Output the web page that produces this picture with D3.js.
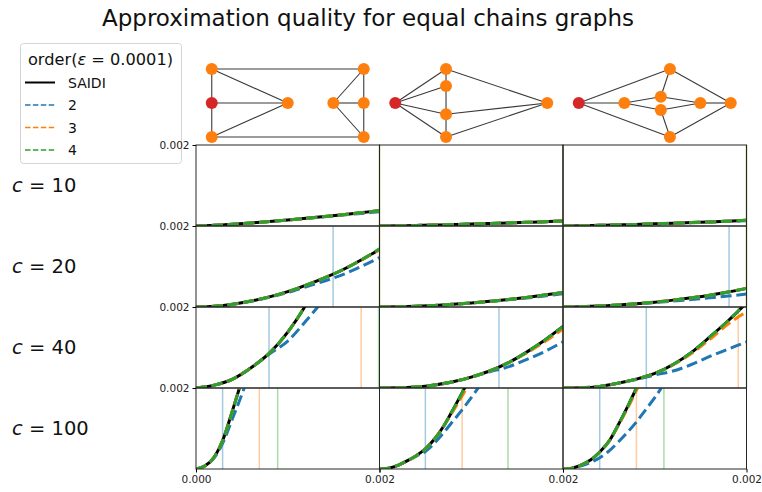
<!DOCTYPE html>
<html>
<head>
<meta charset="utf-8">
<script src="https://cdn.jsdelivr.net/npm/d3@7"></script>
<style>
    body { margin: 0; background: #fff; }
    svg { font-family: "DejaVu Sans", sans-serif; }
</style>
</head>
<body>
<div id="chart"></div>
<script>
// all curve values are in units of 1e-3 (axis labels are formatted back)
const cValues = [10, 20, 40, 100];
const seriesNames = ['SAIDI', '2', '3', '4'];
const seriesColors = ['#000000', '#1f77b4', '#ff7f0e', '#2ca02c'];
const xMax = 2;
const yMax = 2;

// x sample points, one grid per row (c value)
const xGrid = [
    [0, 0.2, 0.4, 0.6, 0.8, 1.0, 1.2, 1.4, 1.6, 1.8, 2.0],
    [0, 0.2, 0.4, 0.6, 0.8, 1.0, 1.2, 1.4, 1.6, 1.8, 2.0],
    [0, 0.2, 0.4, 0.6, 0.8, 1.0, 1.2, 1.4, 1.6, 1.8, 2.0],
    [0, 0.1, 0.2, 0.3, 0.4, 0.5, 0.6, 0.7, 0.8, 0.9, 1.0, 1.1, 1.2]
];

// [row][graph] -> values on xGrid[row]
const saidiY = [
    [[0, 0.016, 0.042, 0.074, 0.11, 0.148, 0.19, 0.234, 0.28, 0.33, 0.38],
     [0, 0.006, 0.014, 0.024, 0.036, 0.05, 0.064, 0.076, 0.09, 0.106, 0.124],
     [0, 0.006, 0.016, 0.028, 0.04, 0.054, 0.068, 0.084, 0.1, 0.12, 0.14]],
    [[0, 0.018, 0.068, 0.146, 0.25, 0.38, 0.54, 0.72, 0.92, 1.16, 1.42],
     [0, 0.006, 0.02, 0.04, 0.066, 0.1, 0.14, 0.184, 0.236, 0.294, 0.36],
     [0, 0.006, 0.022, 0.048, 0.08, 0.12, 0.17, 0.226, 0.29, 0.37, 0.46]],
    [[0, 0.07, 0.22, 0.5, 0.86, 1.38, 2.06, 2.9],
     [0, 0.004, 0.026, 0.076, 0.154, 0.27, 0.42, 0.62, 0.88, 1.18, 1.52],
     [0, 0.006, 0.04, 0.12, 0.22, 0.36, 0.58, 0.88, 1.26, 1.66, 2.1]],
    [[0, 0.08, 0.3, 0.76, 1.46, 2.2, 3.0],
     [0, 0.02, 0.09, 0.2, 0.33, 0.5, 0.74, 1.06, 1.46, 1.88, 2.32],
     [0, 0.02, 0.1, 0.22, 0.42, 0.68, 1.08, 1.52, 2.0, 2.5]]
];
const order2Y = [
    [[0, 0.016, 0.042, 0.074, 0.11, 0.146, 0.185, 0.226, 0.27, 0.31, 0.35],
     [0, 0.006, 0.014, 0.024, 0.036, 0.05, 0.063, 0.075, 0.088, 0.104, 0.12],
     [0, 0.006, 0.016, 0.028, 0.04, 0.053, 0.066, 0.08, 0.098, 0.115, 0.132]],
    [[0, 0.018, 0.066, 0.14, 0.24, 0.36, 0.5, 0.64, 0.8, 1.0, 1.22],
     [0, 0.006, 0.02, 0.04, 0.066, 0.098, 0.136, 0.176, 0.22, 0.274, 0.33],
     [0, 0.006, 0.022, 0.046, 0.076, 0.11, 0.146, 0.184, 0.226, 0.27, 0.32]],
    [[0, 0.07, 0.22, 0.5, 0.84, 1.16, 1.66, 2.2],
     [0, 0.004, 0.026, 0.074, 0.15, 0.262, 0.4, 0.52, 0.7, 0.9, 1.14],
     [0, 0.006, 0.04, 0.118, 0.21, 0.32, 0.42, 0.58, 0.78, 0.96, 1.14]],
    [[0, 0.08, 0.28, 0.68, 1.26, 1.84, 2.5],
     [0, 0.02, 0.09, 0.2, 0.32, 0.43, 0.64, 0.9, 1.18, 1.46, 1.76, 2.08],
     [0, 0.02, 0.08, 0.16, 0.28, 0.44, 0.66, 0.9, 1.16, 1.46, 1.76, 2.1]]
];
const order3Y = [
    [[0, 0.016, 0.042, 0.074, 0.11, 0.148, 0.19, 0.234, 0.28, 0.33, 0.38],
     [0, 0.006, 0.014, 0.024, 0.036, 0.05, 0.064, 0.076, 0.09, 0.106, 0.124],
     [0, 0.006, 0.016, 0.028, 0.04, 0.054, 0.068, 0.084, 0.1, 0.12, 0.14]],
    [[0, 0.018, 0.068, 0.146, 0.25, 0.38, 0.54, 0.72, 0.92, 1.16, 1.42],
     [0, 0.006, 0.02, 0.04, 0.066, 0.1, 0.14, 0.184, 0.236, 0.294, 0.36],
     [0, 0.006, 0.022, 0.048, 0.08, 0.12, 0.17, 0.226, 0.29, 0.37, 0.46]],
    [[0, 0.07, 0.22, 0.5, 0.86, 1.38, 2.06, 2.9],
     [0, 0.004, 0.026, 0.076, 0.154, 0.27, 0.42, 0.62, 0.86, 1.14, 1.46],
     [0, 0.006, 0.04, 0.12, 0.22, 0.36, 0.57, 0.85, 1.2, 1.58, 1.88]],
    [[0, 0.08, 0.3, 0.76, 1.46, 2.2, 3.0],
     [0, 0.02, 0.09, 0.2, 0.33, 0.5, 0.74, 1.06, 1.42, 1.8, 2.2],
     [0, 0.02, 0.1, 0.22, 0.42, 0.68, 1.06, 1.48, 1.94, 2.4]]
];
const order4Y = [
    [[0, 0.016, 0.042, 0.074, 0.11, 0.148, 0.19, 0.234, 0.28, 0.33, 0.38],
     [0, 0.006, 0.014, 0.024, 0.036, 0.05, 0.064, 0.076, 0.09, 0.106, 0.124],
     [0, 0.006, 0.016, 0.028, 0.04, 0.054, 0.068, 0.084, 0.1, 0.12, 0.14]],
    [[0, 0.018, 0.068, 0.146, 0.25, 0.38, 0.54, 0.72, 0.92, 1.16, 1.44],
     [0, 0.006, 0.02, 0.04, 0.066, 0.1, 0.14, 0.184, 0.236, 0.294, 0.36],
     [0, 0.006, 0.022, 0.048, 0.08, 0.12, 0.17, 0.226, 0.29, 0.37, 0.46]],
    [[0, 0.07, 0.22, 0.5, 0.86, 1.38, 2.06, 2.9],
     [0, 0.004, 0.026, 0.076, 0.154, 0.27, 0.42, 0.62, 0.88, 1.18, 1.52],
     [0, 0.006, 0.04, 0.12, 0.22, 0.36, 0.58, 0.88, 1.26, 1.66, 2.1]],
    [[0, 0.08, 0.3, 0.76, 1.46, 2.2, 3.0],
     [0, 0.02, 0.09, 0.2, 0.33, 0.5, 0.74, 1.06, 1.46, 1.88, 2.32],
     [0, 0.02, 0.1, 0.22, 0.42, 0.68, 1.08, 1.52, 2.0, 2.5]]
];

// x where each order reaches epsilon, [row][graph] (null = not reached in range)
const cutoff2 = [[null, null, null], [1.494, null, 1.81], [0.796, 1.302, 0.908], [0.29, 0.5, 0.4]];
const cutoff3 = [[2, 2, 2], [2, 2, 2], [1.8, 2, 1.91], [0.69, 0.9, 0.8]];
const cutoff4 = [[2, 2, 2], [2, 2, 2], [1.99, 2, 2], [0.89, 1.4, 1.1]];

// the three equal chains graphs (layout coords: x 0..1, y -1..1, 1 = root node)
const graphNodes = [
    [[0, 1, 0], [0, 0, 1], [0, -1, 0], [0.5, 0, 0], [0.8, 0, 0], [1, 1, 0], [1, 0, 0], [1, -1, 0]],
    [[0, 0, 1], [0.334, 1, 0], [0.334, 0.5, 0], [0.334, -0.33, 0], [0.334, -1, 0], [1, 0, 0]],
    [[0, 0, 1], [0.30, 0, 0], [0.54, 0.185, 0], [0.54, -0.205, 0], [0.80, 0, 0], [1, 0, 0], [0.6, 1, 0], [0.6, -1, 0]]
];
const graphEdges = [
    [[0, 5], [2, 7], [0, 1], [1, 2], [0, 3], [1, 3], [2, 3], [4, 5], [4, 6], [4, 7], [5, 6], [6, 7]],
    [[0, 1], [0, 2], [0, 3], [0, 4], [1, 2], [2, 3], [3, 4], [1, 5], [3, 5], [4, 5]],
    [[0, 6], [0, 7], [0, 1], [1, 2], [1, 3], [2, 4], [3, 4], [4, 5], [6, 2], [6, 5], [7, 3], [7, 5]]
];

class ChainsChart {

    constructor(){
        this.width = 762;
        this.height = 492;
        this.svg = d3.select('#chart').append('svg')
            .attr('width', this.width)
            .attr('height', this.height)

        // grid of panels: columns = graphs, rows = c values
        this.colX = d3.scaleLinear().domain([0, 3]).range([196, 746.5]);
        this.rowY = d3.scaleLinear().domain([0, 4]).range([145, 469]);
        this.pw = this.colX(1) - this.colX(0);
        this.ph = this.rowY(1) - this.rowY(0);
    }

    drawTitle(){
        this.svg.append('text')
            .attr('x', 368).attr('y', 26)
            .attr('text-anchor', 'middle')
            .style('font-size', '23px')
            .attr('fill', '#111')
            .text('Approximation quality for equal chains graphs')
    }

    drawLegend(){
        let lg = this.svg.append('g').attr('id', 'legend')
        lg.append('rect')
            .attr('x', 20.5).attr('y', 43.5).attr('width', 161).attr('height', 120)
            .attr('rx', 3)
            .attr('fill', 'white').attr('fill-opacity', 0.8)
            .attr('stroke', '#d5d5d5')
        let title = lg.append('text').attr('x', 100.5).attr('y', 64.5)
            .attr('text-anchor', 'middle').style('font-size', '16.2px').attr('fill', '#111')
        title.append('tspan').text('order(')
        title.append('tspan').style('font-style', 'italic').text('ε')
        title.append('tspan').text(' = 0.0001)')

        let rowPos = d3.scaleLinear().domain([0, 3]).range([82.5, 150])
        seriesNames.forEach((name, i) => {
            let y = rowPos(i)
            lg.append('line')
                .attr('x1', 25).attr('x2', 55).attr('y1', y).attr('y2', y)
                .attr('stroke', seriesColors[i])
                .attr('stroke-width', i == 0 ? 2 : 1.5)
                .attr('stroke-dasharray', i == 0 ? null : '5.5,2.4')
            lg.append('text')
                .attr('x', 68).attr('y', y + 5)
                .style('font-size', '14px').attr('fill', '#111')
                .text(name)
        })
    }

    drawGraphs(){
        let gy = d3.scaleLinear().domain([-1, 1]).range([137, 69])
        graphNodes.forEach((nodes, gi) => {
            let cx = (this.colX(gi) + this.colX(gi + 1)) / 2
            let gx = d3.scaleLinear().domain([0, 1]).range([cx - 76, cx + 76])
            let g = this.svg.append('g').attr('class', 'graph')
            g.selectAll('line').data(graphEdges[gi]).enter().append('line')
                .attr('x1', d => gx(nodes[d[0]][0])).attr('y1', d => gy(nodes[d[0]][1]))
                .attr('x2', d => gx(nodes[d[1]][0])).attr('y2', d => gy(nodes[d[1]][1]))
                .attr('stroke', '#3a3a3a').attr('stroke-width', 1.1)
            g.selectAll('circle').data(nodes).enter().append('circle')
                .attr('cx', d => gx(d[0])).attr('cy', d => gy(d[1]))
                .attr('r', 6)
                .attr('fill', d => d[2] ? '#d62728' : '#ff7f0e')
        })
    }

    drawPanel(r, c){
        let x0 = this.colX(c), y0 = this.rowY(r)
        let g = this.svg.append('g').attr('transform', 'translate(' + x0 + ',' + y0 + ')')
        let clipId = 'clip_' + r + '_' + c
        g.append('clipPath').attr('id', clipId).append('rect')
            .attr('width', this.pw).attr('height', this.ph)

        let xScale = d3.scaleLinear().domain([0, xMax]).range([0, this.pw])
        let yScale = d3.scaleLinear().domain([0, yMax]).range([this.ph, 0])

        // vertical lines where each order is good enough
        let cuts = [cutoff2[r][c], cutoff3[r][c], cutoff4[r][c]]
        cuts.forEach((v, i) => {
            if (v == null) return
            g.append('line')
                .attr('x1', xScale(v)).attr('x2', xScale(v))
                .attr('y1', 0).attr('y2', this.ph)
                .attr('stroke', seriesColors[i + 1])
                .attr('stroke-opacity', 0.4)
                .attr('stroke-width', 1.5)
        })

        let line = d3.line()
            .x(d => xScale(d[0]))
            .y(d => yScale(d[1]))
            .curve(d3.curveMonotoneX)
        let allSeries = [saidiY, order2Y, order3Y, order4Y]
        let curves = g.append('g').attr('clip-path', 'url(#' + clipId + ')')
        allSeries.forEach((s, i) => {
            let pts = s[r][c].map((v, k) => [xGrid[r][k], v])
            curves.append('path')
                .datum(pts)
                .attr('d', line)
                .attr('fill', 'none')
                .attr('stroke', seriesColors[i])
                .attr('stroke-width', 3)
                .attr('stroke-dasharray', i == 0 ? null : '11,4.8')
        })

        g.append('rect')
            .attr('width', this.pw).attr('height', this.ph)
            .attr('fill', 'none').attr('stroke', '#262626').attr('stroke-width', 1)

        let fmt = d => (d / 1000).toFixed(3)
        if (c == 0){
            let yAxis = g.append('g').call(d3.axisLeft(yScale).tickValues([yMax]).tickSize(3.5).tickPadding(3).tickFormat(fmt))
            yAxis.select('.domain').remove()
            yAxis.selectAll('text').style('font-size', '10.5px').attr('fill', '#222').attr('font-family', 'DejaVu Sans')
        }
        if (r == cValues.length - 1){
            let xAxis = g.append('g').attr('transform', 'translate(0,' + this.ph + ')')
                .call(d3.axisBottom(xScale).tickValues([0, xMax]).tickSize(3.5).tickPadding(3)
                    .tickFormat(d => (d == 0 && c > 0) ? '' : fmt(d)))
            xAxis.select('.domain').remove()
            xAxis.selectAll('text').style('font-size', '10.5px').attr('fill', '#222').attr('font-family', 'DejaVu Sans')
        }
    }

    drawRowLabels(){
        cValues.forEach((cv, r) => {
            let t = this.svg.append('text')
                .attr('x', 12)
                .attr('y', (this.rowY(r) + this.rowY(r + 1)) / 2 + 6.5)
                .style('font-size', '19.5px').attr('fill', '#111')
            t.append('tspan').style('font-style', 'italic').text('c')
            t.append('tspan').text(' = ' + cv)
        })
    }

    draw(){
        this.drawTitle()
        this.drawLegend()
        this.drawGraphs()
        for (let r = 0; r < cValues.length; r++){
            for (let c = 0; c < 3; c++){
                this.drawPanel(r, c)
            }
        }
        this.drawRowLabels()
    }
}

let chart = new ChainsChart();
chart.draw();
</script>
</body>
</html>
